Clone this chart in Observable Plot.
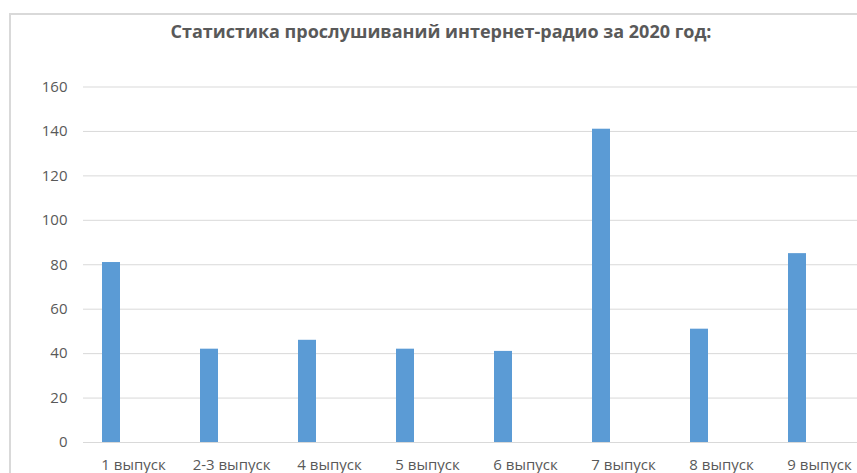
<!DOCTYPE html>
<html>
<head>
<meta charset="utf-8">
<script src="https://cdn.jsdelivr.net/npm/d3@7"></script>
<script src="https://cdn.jsdelivr.net/npm/@observablehq/plot@0.6"></script>
<style>
  html, body { margin: 0; padding: 0; background: #fff; }
  body { width: 857px; height: 473px; overflow: hidden; position: relative; font-family: "Open Sans", sans-serif; }
  #frame { position: absolute; left: 9px; top: 13px; width: 900px; height: 520px; border: 2px solid #d9d9d9; box-sizing: border-box; }
  #title { position: absolute; left: 9px; width: 864px; top: 18px; text-align: center; font-size: 18px; font-weight: 700; color: #595959; line-height: 26px; white-space: nowrap; }
  #chart { position: absolute; left: 0; top: 60px; }
</style>
</head>
<body>
<div id="frame"></div>
<div id="title">Статистика прослушиваний  интернет-радио за 2020 год:</div>
<div id="chart"></div>
<script>
const categories = ["1 выпуск", "2-3 выпуск", "4 выпуск", "5 выпуск", "6 выпуск", "7 выпуск", "8 выпуск", "9 выпуск"];
const listens = [81, 42, 46, 42, 41, 141, 51, 85];
const yTicks = [0, 20, 40, 60, 80, 100, 120, 140, 160];

const data = categories.map((c, i) => ({cat: c, value: listens[i]}));

const chart = Plot.plot({
  width: 857,
  height: 413,
  marginLeft: 83,
  marginRight: 0,
  marginTop: 26.5,
  marginBottom: 31,
  style: {fontFamily: "'Open Sans', sans-serif", fontSize: "15px", color: "#595959", background: "transparent", overflow: "visible"},
  x: {domain: categories, range: [83, 868], paddingInner: 0.8166, paddingOuter: 0.4083, label: null},
  y: {domain: [0, 160], label: null},
  marks: [
    Plot.ruleY(yTicks, {stroke: "#d9d9d9", strokeWidth: 1}),
    Plot.barY(data, {x: "cat", y: "value", fill: "#5b9bd5", dx: -22}),
    Plot.axisY(yTicks, {tickSize: 0, tickPadding: 16, label: null, fontSize: 15}),
    Plot.axisX({tickSize: 0, tickPadding: 17, label: null, fontSize: 15})
  ]
});
document.getElementById("chart").appendChild(chart);
</script>
</body>
</html>
